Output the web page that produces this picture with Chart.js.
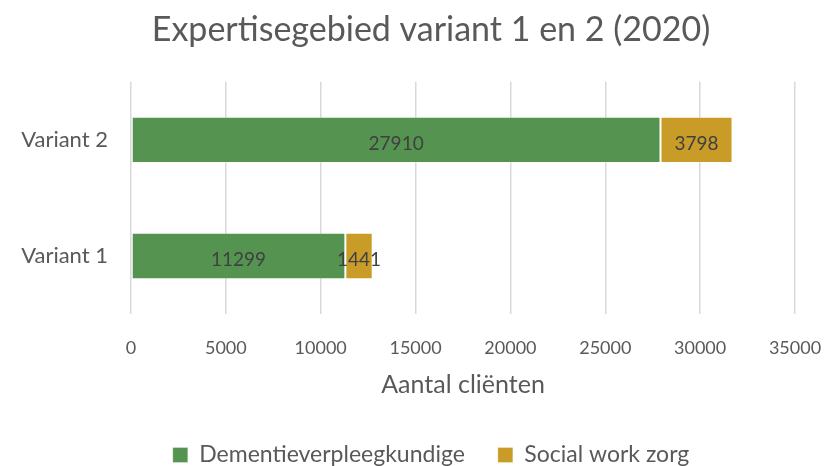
<!DOCTYPE html>
<html>
<head>
<meta charset="utf-8">
<script src="https://cdn.jsdelivr.net/npm/chart.js@4"></script>
<style>
  html, body { margin: 0; padding: 0; background: #fff; }
  #wrap { width: 826px; height: 466px; }
</style>
</head>
<body>
<div id="wrap"><canvas id="myChart"></canvas></div>
<script>
// data
const categories = ["Variant 2", "Variant 1"];
const dementie = [27910, 11299];
const socialWork = [3798, 1441];
const seriesNames = ["Dementieverpleegkundige", "Social work zorg"];
const xTicks = [0, 5000, 10000, 15000, 20000, 25000, 30000, 35000];

const FONT = "Lato, 'Open Sans', sans-serif";
const GREY = "#595959";

// waarden in het midden van elk segment tekenen
const barValues = {
  id: "barValues",
  afterDatasetsDraw(chart) {
    const ctx = chart.ctx;
    ctx.save();
    ctx.font = "19px " + FONT;
    ctx.fillStyle = "#404040";
    ctx.textAlign = "center";
    ctx.textBaseline = "middle";
    chart.data.datasets.forEach((ds, i) => {
      const meta = chart.getDatasetMeta(i);
      meta.data.forEach((el, j) => {
        const cx = (el.x + el.base) / 2;
        ctx.fillText(String(ds.data[j]), cx, el.y + 4);
      });
    });
    ctx.restore();
  }
};

const ctx = document.getElementById("myChart").getContext("2d");
new Chart(ctx, {
  type: "bar",
  data: {
    labels: categories,
    datasets: [
      {
        label: seriesNames[0],
        data: dementie,
        backgroundColor: "#559350",
        borderColor: "rgba(255,255,255,0.3)",
        borderWidth: 1,
        borderSkipped: false,
        barPercentage: 0.4,
        categoryPercentage: 1
      },
      {
        label: seriesNames[1],
        data: socialWork,
        backgroundColor: "#C99C28",
        borderColor: "rgba(255,255,255,0.3)",
        borderWidth: 1,
        borderSkipped: false,
        barPercentage: 0.4,
        categoryPercentage: 1
      }
    ]
  },
  options: {
    indexAxis: "y",
    responsive: true,
    maintainAspectRatio: false,
    animation: false,
    layout: { padding: { left: 67, right: 31, top: 0, bottom: -10.5 } },
    plugins: {
      title: {
        display: true,
        text: "Expertisegebied variant 1 en 2 (2020)",
        color: GREY,
        font: { family: FONT, size: 34, weight: "normal" },
        padding: { top: 10, bottom: 31 }
      },
      legend: {
        position: "bottom",
        labels: {
          color: GREY,
          font: { family: FONT, size: 23 },
          boxWidth: 15,
          boxHeight: 15,
          padding: 33
        }
      },
      tooltip: { enabled: false }
    },
    scales: {
      x: {
        stacked: true,
        min: 0,
        max: 35000,
        afterBuildTicks(scale) {
          scale.ticks = xTicks.map(v => ({ value: v }));
        },
        afterFit(scale) {
          scale.height = 96.5;
          scale.paddingLeft = 0;
          scale.paddingRight = 0;
        },
        grid: { color: "#d9d9d9", lineWidth: 1.5, drawTicks: false },
        border: { display: false },
        ticks: {
          color: GREY,
          font: { family: FONT, size: 18 },
          padding: 23,
          callback: v => String(v)
        },
        title: {
          display: true,
          text: "Aantal cliënten",
          color: GREY,
          font: { family: FONT, size: 25 },
          padding: { top: 0, bottom: 10.5 }
        }
      },
      y: {
        stacked: true,
        afterFit(scale) {
          scale.width = 64;
          // labels niet afknippen aan de linkerkant van de as
          scale._computeLabelArea = () => undefined;
        },
        grid: { display: false, drawTicks: false },
        border: { display: false },
        ticks: {
          color: GREY,
          font: { family: FONT, size: 22 },
          padding: 23
        }
      }
    }
  },
  plugins: [barValues]
});
</script>
</body>
</html>
